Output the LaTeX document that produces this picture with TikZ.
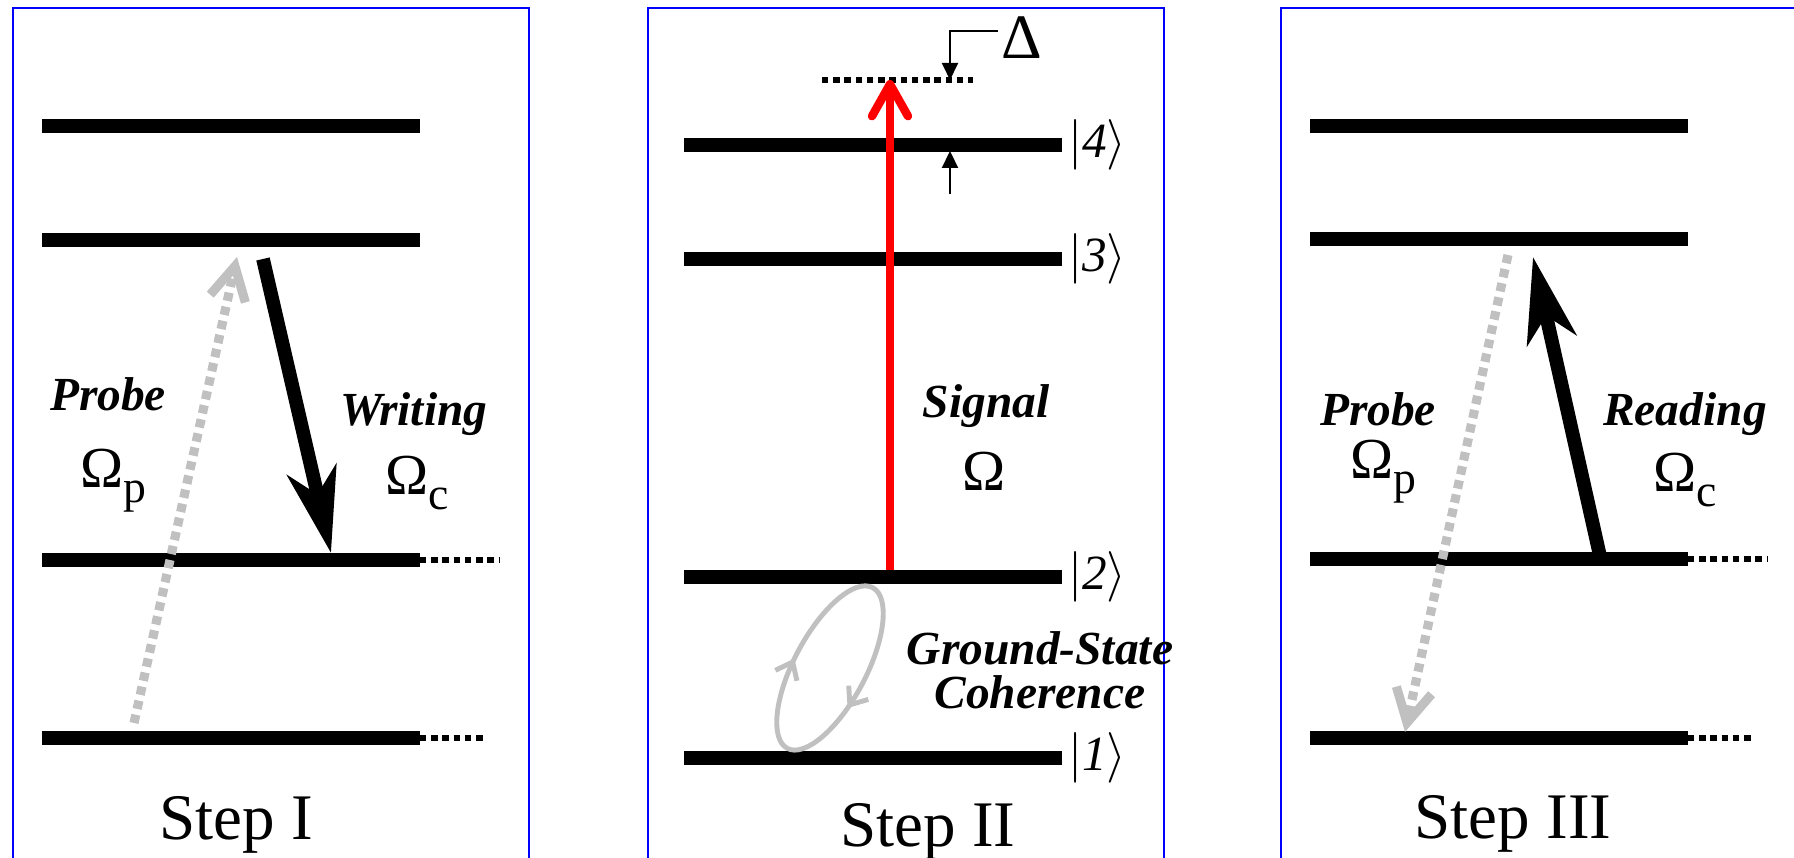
\documentclass[tikz,border=0pt]{standalone}
\usepackage{fontspec}
\setmainfont{Liberation Serif}
\usepackage{tikz}
\usetikzlibrary{arrows.meta,positioning,decorations.markings}

\definecolor{probegray}{RGB}{192,192,192}
\definecolor{panelblue}{RGB}{0,0,255}
\newcommand{\lowsub}[1]{\raisebox{-4pt}{\fontsize{13}{13}\selectfont #1}}

\begin{document}
\begin{tikzpicture}[x=1cm, y=1cm,
  panel/.style={draw=panelblue, line width=0.6pt},
  level/.style={line width=3.9pt},
  virt/.style={line width=1.5pt, dash pattern=on 1.8pt off 1.4pt},
  drive/.style={line width=3.9pt, -{Stealth[length=8.5mm, width=5mm, inset=2.5mm]}},
  probe/.style={draw=probegray, line width=2.6pt, dash pattern=on 2.4pt off 1.7pt,
                -{Straight Barb[length=3.3mm, width=3.6mm]}},
  sig/.style={draw=red, line width=2.4pt, -{Straight Barb[length=3.2mm, width=3.6mm, round]}},
  detune/.style={line width=0.6pt, -{Triangle[length=1.7mm, width=1.6mm]}},
  loopline/.style={draw=probegray, line width=1.4pt,
                   decoration={markings,
                     mark=at position 0.27 with {\arrowreversed{Straight Barb[length=1.5mm, width=2.4mm]}},
                     mark=at position 0.685 with {\arrowreversed{Straight Barb[length=1.5mm, width=2.4mm]}}},
                   postaction={decorate}},
  lbl/.style={font=\fontsize{13.5}{12.5}\selectfont\bfseries\itshape, inner sep=0pt, anchor=base},
  omg/.style={font=\fontsize{16.5}{16}\selectfont, inner sep=0pt, anchor=base},
  ket/.style={font=\fontsize{14}{14}\selectfont, anchor=west, inner sep=1pt},
  steplbl/.style={font=\fontsize{18.5}{18}\selectfont, inner sep=0pt, anchor=base}
]
\useasboundingbox (0,0) rectangle (17.94,8.58);

% --- panels -------------------------------------------------------------
\draw[panel] (0.13,0) -- (0.13,8.50) -- (5.29,8.50) -- (5.29,0);
\draw[panel] (6.48,0) -- (6.48,8.50) -- (11.64,8.50) -- (11.64,0);
\draw[panel] (12.81,0) -- (12.81,8.50) -- (17.94,8.50);

% --- step I: writing ----------------------------------------------------
\draw[level] (0.42,7.32) -- (4.20,7.32);
\draw[level] (0.42,6.18) -- (4.20,6.18);
\draw[level] (0.42,2.98) -- (4.20,2.98);
\draw[virt]  (4.20,2.98) -- (4.99,2.98);
\draw[level] (0.42,1.20) -- (4.20,1.20);
\draw[virt]  (4.20,1.20) -- (4.85,1.20);

\coordinate (pIa) at (1.34,1.35);
\coordinate (pIb) at (2.37,6.01);
\coordinate (wIa) at (2.63,5.99);
\coordinate (wIb) at (3.31,3.05);
\draw[probe] (pIa) -- (pIb);
\draw[drive] (wIa) -- (wIb);

\node[lbl] (probeI) at (1.08,4.47) {Probe};
\node[lbl] (writeI) at (4.14,4.32) {Writing};
\node[omg] (omgpI)  at (1.13,3.70) {Ω\lowsub{p}};
\node[omg] (omgcI)  at (4.17,3.63) {Ω\lowsub{c}};
\node[steplbl] (stepI) at (2.36,0.18) {Step I};

% --- step II: storage ---------------------------------------------------
\draw[level] (6.84,7.13) -- (10.62,7.13);
\draw[level] (6.84,5.99) -- (10.62,5.99);
\draw[level] (6.84,2.81) -- (10.62,2.81);
\draw[level] (6.84,1.00) -- (10.62,1.00);
\node[ket] (k4) at (10.64,7.13) {$|\mathit{4}\rangle$};
\node[ket] (k3) at (10.64,5.99) {$|\mathit{3}\rangle$};
\node[ket] (k2) at (10.64,2.81) {$|\mathit{2}\rangle$};
\node[ket] (k1) at (10.64,1.00) {$|\mathit{1}\rangle$};

\draw[virt] (8.22,7.78) -- (9.73,7.78);
\coordinate (sa) at (8.90,2.875);
\coordinate (sb) at (8.90,7.78);
\draw[sig] (sa) -- (sb);

\node[font=\fontsize{18}{18}\selectfont, inner sep=0pt] (dlt) at (10.22,8.20) {Δ};
\coordinate (dtop) at (9.98,8.27);
\coordinate (dvir) at (9.50,7.78);
\coordinate (dlow) at (9.50,6.64);
\coordinate (dfour) at (9.50,7.07);
\draw[detune] (dtop) -| (dvir);
\draw[detune] (dlow) -- (dfour);

\coordinate (cohc) at (8.30,1.90);
\draw[loopline, rotate around={62:(cohc)}] (cohc) ellipse [x radius=0.91, y radius=0.36];

\node[lbl] (sigII) at (9.86,4.40) {Signal};
\node[omg] (omgII) at (9.84,3.67) {Ω};
\node[lbl, anchor=north, align=center] (coh) at (10.40,2.27) {Ground-State\\Coherence};
\node[steplbl] (stepII) at (9.28,0.11) {Step II};

% --- step III: reading --------------------------------------------------
\draw[level] (13.10,7.32) -- (16.88,7.32);
\draw[level] (13.10,6.19) -- (16.88,6.19);
\draw[level] (13.10,2.99) -- (16.88,2.99);
\draw[virt]  (16.88,2.99) -- (17.67,2.99);
\draw[level] (13.10,1.20) -- (16.88,1.20);
\draw[virt]  (16.88,1.20) -- (17.51,1.20);

\coordinate (pIIIa) at (15.08,6.03);
\coordinate (pIIIb) at (14.05,1.26);
\coordinate (rIIIa) at (16.00,3.02);
\coordinate (rIIIb) at (15.33,6.01);
\draw[probe] (pIIIa) -- (pIIIb);
\draw[drive] (rIIIa) -- (rIIIb);

\node[lbl] (probeIII) at (13.78,4.32) {Probe};
\node[lbl] (readIII)  at (16.85,4.32) {Reading};
\node[omg] (omgpIII)  at (13.83,3.79) {Ω\lowsub{p}};
\node[omg] (omgcIII)  at (16.85,3.66) {Ω\lowsub{c}};
\node[steplbl] (stepIII) at (15.13,0.19) {Step III};
\end{tikzpicture}
\end{document}
